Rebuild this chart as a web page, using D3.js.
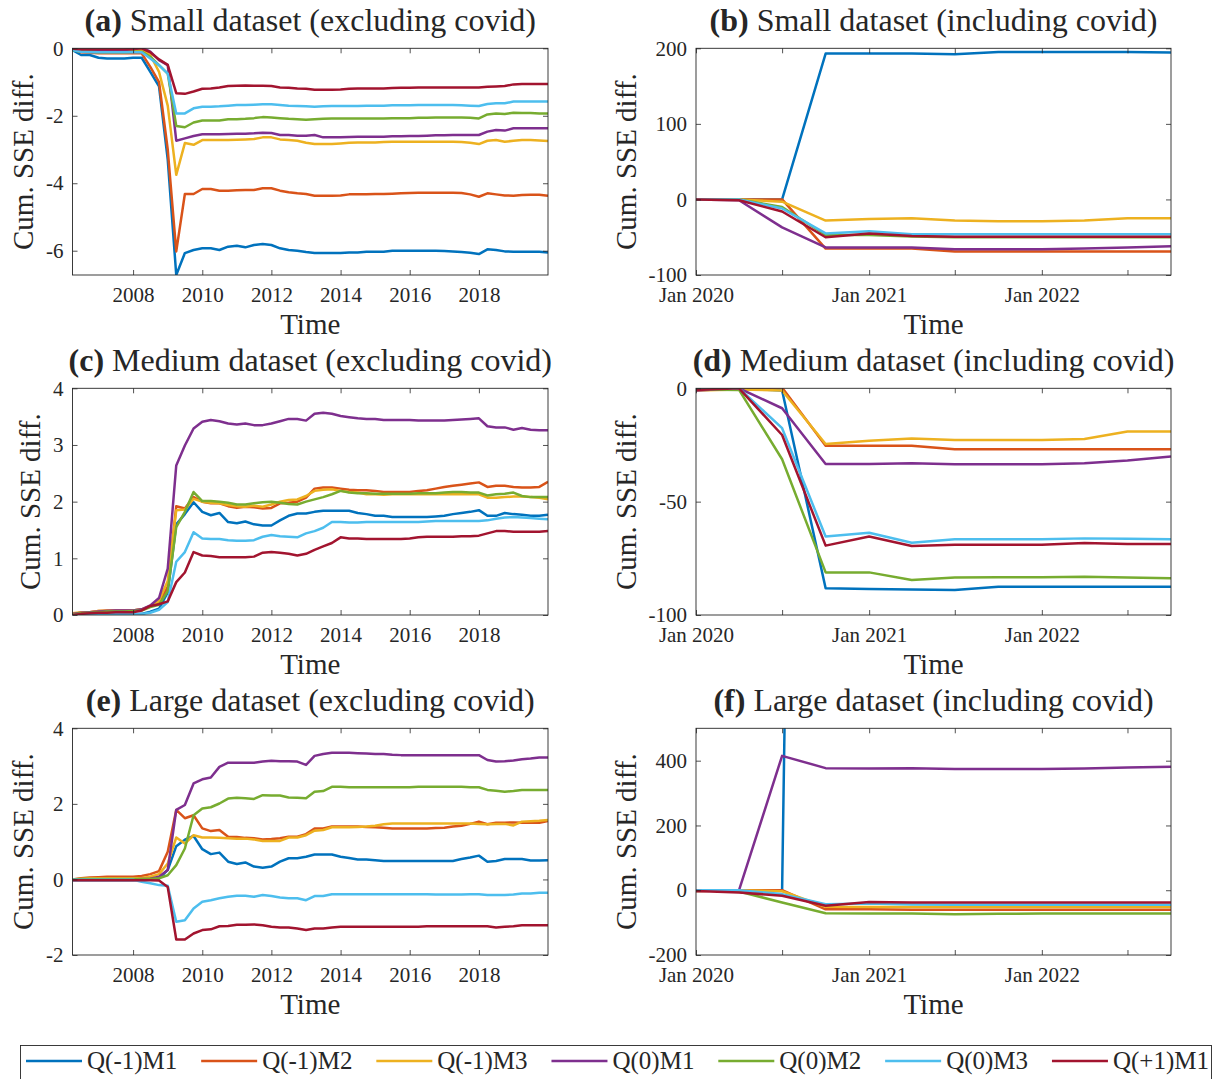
<!DOCTYPE html>
<html>
<head>
<meta charset="utf-8">
<script src="https://cdn.jsdelivr.net/npm/d3@7"></script>
<style>
  body { margin: 0; background: #fff; }
  text { font-family: 'Liberation Serif', 'Times New Roman', serif; fill: #262626; }
</style>
</head>
<body>
<svg id="chart" width="1217" height="1079"></svg>
<script>
(function () {

  'use strict';

  // ----------- DATA --------------

  var SERIES = ['Q(-1)M1', 'Q(-1)M2', 'Q(-1)M3', 'Q(0)M1', 'Q(0)M2', 'Q(0)M3', 'Q(+1)M1'];
  var COLOURS = ['#0072BD', '#D95319', '#EDB120', '#7E2F8E', '#77AC30', '#4DBEEE', '#A2142F'];

  // quarterly dates, Apr 2006 .. Jan 2020 and Jan 2020 .. Oct 2022
  var preCovidDates = d3.timeMonth.every(3).range(new Date(2006, 3, 1), new Date(2020, 0, 2));
  var covidDates = d3.timeMonth.every(3).range(new Date(2020, 0, 1), new Date(2022, 9, 2));

  var preCovidTickYears = [2008, 2010, 2012, 2014, 2016, 2018];
  var covidTickLabels = ['Jan 2020', '', 'Jan 2021', '', 'Jan 2022', ''];

  // one row per series, same order as SERIES
  var smallExcl = [
    [-0.05, -0.20, -0.20, -0.28, -0.30, -0.30, -0.30, -0.28,
     -0.28, -0.70, -1.13, -3.30, -6.72, -6.07, -5.98, -5.93,
     -5.93, -5.98, -5.88, -5.85, -5.90, -5.83, -5.80, -5.83,
     -5.93, -5.98, -6.00, -6.04, -6.07, -6.07, -6.07, -6.07,
     -6.05, -6.05, -6.03, -6.03, -6.03, -6.00, -6.00, -6.00,
     -6.00, -6.00, -6.00, -6.01, -6.02, -6.04, -6.06, -6.10,
     -5.96, -5.98, -6.02, -6.03, -6.03, -6.03, -6.03, -6.05],
    [-0.02, -0.12, -0.13, -0.15, -0.15, -0.15, -0.15, -0.15,
     -0.15, -0.55, -1.00, -3.00, -6.02, -4.32, -4.32, -4.17,
     -4.17, -4.22, -4.22, -4.21, -4.20, -4.20, -4.15, -4.15,
     -4.22, -4.27, -4.30, -4.32, -4.37, -4.37, -4.37, -4.36,
     -4.33, -4.33, -4.33, -4.32, -4.32, -4.31, -4.30, -4.29,
     -4.28, -4.28, -4.28, -4.28, -4.28, -4.29, -4.33, -4.40,
     -4.30, -4.33, -4.36, -4.37, -4.35, -4.34, -4.34, -4.37],
    [-0.03, -0.08, -0.08, -0.10, -0.10, -0.10, -0.10, -0.08,
     -0.05, -0.20, -0.70, -1.70, -3.75, -2.81, -2.86, -2.72,
     -2.72, -2.72, -2.72, -2.71, -2.70, -2.69, -2.64, -2.64,
     -2.70, -2.72, -2.74, -2.80, -2.84, -2.84, -2.84, -2.82,
     -2.80, -2.79, -2.79, -2.79, -2.78, -2.77, -2.77, -2.77,
     -2.77, -2.77, -2.77, -2.77, -2.77, -2.78, -2.80, -2.84,
     -2.74, -2.72, -2.77, -2.74, -2.72, -2.72, -2.73, -2.75],
    [-0.02, -0.05, -0.05, -0.06, -0.06, -0.06, -0.05, -0.03,
      0.03, -0.10, -0.35, -0.50, -2.74, -2.67, -2.60, -2.55,
     -2.55, -2.55, -2.54, -2.53, -2.53, -2.52, -2.50, -2.51,
     -2.57, -2.57, -2.59, -2.59, -2.57, -2.64, -2.64, -2.64,
     -2.63, -2.62, -2.62, -2.62, -2.62, -2.61, -2.61, -2.60,
     -2.60, -2.59, -2.58, -2.58, -2.57, -2.57, -2.57, -2.57,
     -2.47, -2.42, -2.44, -2.37, -2.37, -2.37, -2.37, -2.37],
    [-0.05, -0.10, -0.10, -0.12, -0.12, -0.12, -0.12, -0.10,
     -0.10, -0.25, -0.50, -0.75, -2.30, -2.34, -2.20, -2.14,
     -2.14, -2.14, -2.10, -2.10, -2.09, -2.07, -2.04, -2.05,
     -2.07, -2.09, -2.10, -2.12, -2.10, -2.09, -2.08, -2.08,
     -2.08, -2.08, -2.08, -2.08, -2.08, -2.07, -2.07, -2.07,
     -2.06, -2.06, -2.05, -2.05, -2.05, -2.05, -2.06, -2.08,
     -1.96, -1.93, -1.95, -1.91, -1.92, -1.92, -1.93, -1.93],
    [-0.05, -0.10, -0.12, -0.12, -0.12, -0.12, -0.12, -0.12,
     -0.12, -0.30, -0.50, -0.75, -1.93, -1.93, -1.78, -1.73,
     -1.73, -1.72, -1.70, -1.68, -1.68, -1.67, -1.66, -1.66,
     -1.68, -1.70, -1.71, -1.72, -1.73, -1.72, -1.71, -1.71,
     -1.71, -1.71, -1.70, -1.70, -1.70, -1.69, -1.69, -1.69,
     -1.68, -1.68, -1.68, -1.68, -1.68, -1.69, -1.70, -1.71,
     -1.65, -1.63, -1.63, -1.58, -1.58, -1.58, -1.58, -1.58],
    [-0.01, -0.03, -0.03, -0.03, -0.03, -0.03, -0.03, -0.02,
      0.00, -0.12, -0.33, -0.49, -1.33, -1.35, -1.28, -1.20,
     -1.19, -1.16, -1.12, -1.11, -1.10, -1.11, -1.11, -1.12,
     -1.16, -1.17, -1.19, -1.20, -1.23, -1.23, -1.23, -1.22,
     -1.20, -1.19, -1.19, -1.19, -1.19, -1.18, -1.17, -1.17,
     -1.16, -1.16, -1.16, -1.16, -1.16, -1.16, -1.16, -1.16,
     -1.14, -1.13, -1.12, -1.07, -1.06, -1.06, -1.06, -1.06]
  ];

  var smallIncl = [
    [0, 0, 0, 193, 193, 193, 192, 195, 195, 195, 195, 194.5],
    [0, 0, 0, -65, -65, -65, -69, -69, -69, -69, -69, -69],
    [0, 0, -3, -28, -26, -25, -28, -29, -29, -28, -25, -25],
    [0, -1, -37, -63.5, -63.5, -63.5, -66, -66, -66, -65, -63.5, -62],
    [0, 0, -10, -47, -47, -49, -50, -50, -50, -50, -50, -50],
    [0, 0, -12, -45, -42, -46, -46, -46, -46, -46, -46, -46],
    [0, -1, -16, -50, -45, -48.5, -49.5, -49.5, -49.5, -49.5, -49.5, -49.5]
  ];

  var mediumExcl = [
    [0.00, 0.00, 0.01, 0.01, 0.01, 0.01, 0.01, 0.01,
     0.02, 0.06, 0.11, 0.40, 1.60, 1.78, 1.99, 1.82,
     1.76, 1.80, 1.64, 1.62, 1.65, 1.60, 1.58, 1.58,
     1.67, 1.75, 1.79, 1.79, 1.82, 1.84, 1.84, 1.84,
     1.84, 1.80, 1.78, 1.75, 1.75, 1.73, 1.73, 1.73,
     1.73, 1.73, 1.74, 1.75, 1.78, 1.80, 1.82, 1.85,
     1.75, 1.75, 1.80, 1.78, 1.77, 1.75, 1.75, 1.77],
    [0.02, 0.04, 0.05, 0.07, 0.08, 0.08, 0.08, 0.08,
     0.10, 0.15, 0.22, 0.50, 1.92, 1.88, 2.08, 2.00,
     1.97, 1.97, 1.92, 1.89, 1.91, 1.90, 1.88, 1.89,
     1.97, 1.98, 2.00, 2.07, 2.23, 2.25, 2.25, 2.23,
     2.21, 2.20, 2.20, 2.19, 2.17, 2.17, 2.17, 2.17,
     2.19, 2.20, 2.23, 2.26, 2.28, 2.30, 2.32, 2.34,
     2.26, 2.28, 2.28, 2.26, 2.25, 2.25, 2.26, 2.35],
    [0.03, 0.05, 0.05, 0.07, 0.07, 0.07, 0.07, 0.08,
     0.10, 0.16, 0.25, 0.60, 1.85, 1.86, 2.05, 2.00,
     1.98, 1.97, 1.94, 1.92, 1.91, 1.93, 1.91, 1.95,
     2.00, 2.03, 2.04, 2.10, 2.19, 2.21, 2.22, 2.19,
     2.17, 2.16, 2.13, 2.13, 2.12, 2.13, 2.13, 2.13,
     2.13, 2.13, 2.13, 2.13, 2.13, 2.13, 2.13, 2.13,
     2.07, 2.07, 2.08, 2.09, 2.09, 2.08, 2.07, 2.04],
    [0.02, 0.04, 0.05, 0.06, 0.07, 0.08, 0.08, 0.08,
     0.10, 0.17, 0.30, 0.82, 2.64, 2.99, 3.29, 3.41,
     3.44, 3.42, 3.38, 3.36, 3.38, 3.35, 3.35, 3.38,
     3.42, 3.46, 3.46, 3.43, 3.55, 3.57, 3.55, 3.51,
     3.49, 3.47, 3.46, 3.46, 3.44, 3.44, 3.44, 3.44,
     3.43, 3.43, 3.43, 3.43, 3.44, 3.45, 3.46, 3.47,
     3.33, 3.31, 3.31, 3.27, 3.30, 3.27, 3.26, 3.26],
    [0.01, 0.03, 0.04, 0.05, 0.06, 0.06, 0.06, 0.07,
     0.08, 0.14, 0.18, 0.42, 1.55, 1.82, 2.17, 2.01,
     2.01, 2.00, 1.98, 1.95, 1.95, 1.97, 1.99, 2.00,
     1.98, 1.96, 1.95, 2.00, 2.04, 2.08, 2.13, 2.19,
     2.16, 2.15, 2.15, 2.14, 2.14, 2.14, 2.14, 2.14,
     2.15, 2.15, 2.15, 2.16, 2.17, 2.17, 2.16, 2.16,
     2.11, 2.13, 2.14, 2.16, 2.10, 2.08, 2.08, 2.08],
    [0.00, 0.00, 0.00, 0.00, 0.01, 0.01, 0.01, 0.01,
     0.02, 0.04, 0.09, 0.23, 0.94, 1.11, 1.46, 1.35,
     1.34, 1.34, 1.32, 1.31, 1.31, 1.32, 1.38, 1.41,
     1.39, 1.38, 1.37, 1.44, 1.48, 1.54, 1.64, 1.64,
     1.63, 1.63, 1.64, 1.64, 1.64, 1.64, 1.64, 1.64,
     1.64, 1.65, 1.66, 1.66, 1.66, 1.66, 1.66, 1.66,
     1.67, 1.70, 1.72, 1.73, 1.72, 1.71, 1.70, 1.69],
    [0.00, 0.02, 0.03, 0.04, 0.04, 0.05, 0.05, 0.05,
     0.08, 0.16, 0.19, 0.24, 0.58, 0.75, 1.11, 1.05,
     1.04, 1.02, 1.02, 1.02, 1.02, 1.03, 1.10, 1.11,
     1.10, 1.08, 1.05, 1.08, 1.15, 1.21, 1.27, 1.37,
     1.35, 1.35, 1.34, 1.34, 1.34, 1.34, 1.34, 1.35,
     1.37, 1.38, 1.38, 1.38, 1.38, 1.39, 1.39, 1.40,
     1.44, 1.48, 1.48, 1.47, 1.47, 1.47, 1.47, 1.48]
  ];

  var mediumIncl = [
    [-0.5, 0, -1, -88.2, -88.5, -88.7, -89, -87.5, -87.5, -87.5, -87.5, -87.5],
    [-0.5, 0, 0.3, -25.3, -25.3, -25.3, -26.9, -26.9, -26.9, -26.9, -26.9, -26.9],
    [-1, -0.5, -1, -24.6, -23.1, -22.1, -22.8, -22.8, -22.8, -22.4, -19.1, -19.1],
    [-1, 0, -8.8, -33.4, -33.4, -33.1, -33.5, -33.5, -33.5, -33.1, -31.9, -30.1],
    [-0.5, -0.7, -31.3, -81.2, -81.2, -84.6, -83.5, -83.4, -83.3, -83.1, -83.5, -83.8],
    [-0.5, 0, -17.6, -65.4, -63.7, -68.1, -66.6, -66.6, -66.6, -66.2, -66.4, -66.6],
    [-0.7, 0, -20.6, -69.4, -65.4, -69.6, -69.0, -69.0, -69.0, -68.2, -68.7, -68.7]
  ];

  var largeExcl = [
    [-0.02, -0.02, -0.02, -0.02, -0.02, -0.02, -0.02, -0.02,
     -0.01, 0.00, 0.02, 0.25, 0.88, 1.05, 1.15, 0.80,
     0.67, 0.71, 0.47, 0.41, 0.45, 0.34, 0.31, 0.34,
     0.47, 0.56, 0.56, 0.60, 0.66, 0.66, 0.66, 0.60,
     0.57, 0.53, 0.53, 0.51, 0.49, 0.49, 0.49, 0.49,
     0.49, 0.49, 0.49, 0.49, 0.49, 0.54, 0.58, 0.63,
     0.47, 0.49, 0.54, 0.54, 0.54, 0.50, 0.50, 0.51],
    [0.00, 0.03, 0.05, 0.06, 0.07, 0.07, 0.07, 0.07,
     0.09, 0.14, 0.22, 0.73, 1.84, 1.62, 1.70, 1.35,
     1.28, 1.31, 1.13, 1.12, 1.10, 1.09, 1.06, 1.07,
     1.09, 1.13, 1.13, 1.20, 1.35, 1.35, 1.40, 1.40,
     1.40, 1.40, 1.39, 1.38, 1.37, 1.35, 1.35, 1.35,
     1.35, 1.35, 1.36, 1.37, 1.40, 1.42, 1.47, 1.53,
     1.46, 1.50, 1.50, 1.51, 1.50, 1.50, 1.50, 1.55],
    [0.00, 0.02, 0.03, 0.03, 0.03, 0.03, 0.03, 0.03,
     0.04, 0.07, 0.14, 0.42, 1.11, 0.95, 1.17, 1.11,
     1.11, 1.10, 1.09, 1.08, 1.08, 1.06, 1.02, 1.02,
     1.02, 1.11, 1.11, 1.17, 1.29, 1.31, 1.38, 1.38,
     1.38, 1.39, 1.40, 1.42, 1.46, 1.48, 1.48, 1.48,
     1.48, 1.48, 1.48, 1.48, 1.48, 1.48, 1.48, 1.47,
     1.46, 1.47, 1.47, 1.43, 1.53, 1.54, 1.55, 1.57],
    [-0.01, 0.00, 0.00, 0.00, 0.00, 0.00, 0.00, 0.00,
     0.01, 0.02, 0.07, 0.25, 1.84, 1.97, 2.54, 2.65,
     2.70, 2.98, 3.09, 3.09, 3.09, 3.09, 3.12, 3.14,
     3.13, 3.13, 3.12, 3.03, 3.27, 3.32, 3.35, 3.35,
     3.35, 3.34, 3.33, 3.32, 3.32, 3.30, 3.29, 3.29,
     3.29, 3.29, 3.29, 3.29, 3.29, 3.29, 3.29, 3.29,
     3.16, 3.12, 3.13, 3.15, 3.18, 3.20, 3.23, 3.23],
    [0.00, 0.01, 0.01, 0.01, 0.01, 0.01, 0.01, 0.01,
     0.01, 0.01, 0.03, 0.11, 0.38, 0.82, 1.70, 1.88,
     1.91, 2.01, 2.14, 2.16, 2.15, 2.13, 2.23, 2.22,
     2.22, 2.17, 2.16, 2.15, 2.32, 2.34, 2.45, 2.45,
     2.44, 2.44, 2.44, 2.44, 2.44, 2.44, 2.44, 2.44,
     2.45, 2.45, 2.45, 2.45, 2.45, 2.45, 2.44, 2.44,
     2.37, 2.35, 2.32, 2.34, 2.37, 2.37, 2.37, 2.37],
    [-0.01, -0.01, -0.01, -0.01, -0.01, -0.01, -0.01, -0.01,
     -0.06, -0.10, -0.15, -0.17, -1.12, -1.08, -0.77, -0.59,
     -0.55, -0.50, -0.46, -0.43, -0.43, -0.46, -0.41, -0.44,
     -0.48, -0.50, -0.50, -0.55, -0.44, -0.44, -0.39, -0.39,
     -0.39, -0.39, -0.39, -0.39, -0.39, -0.39, -0.39, -0.39,
     -0.39, -0.39, -0.40, -0.40, -0.40, -0.40, -0.39, -0.39,
     -0.41, -0.41, -0.41, -0.40, -0.37, -0.37, -0.35, -0.35],
    [-0.02, -0.02, -0.02, -0.02, -0.02, -0.02, -0.02, -0.02,
     -0.02, -0.02, -0.03, -0.20, -1.59, -1.59, -1.43, -1.34,
     -1.32, -1.24, -1.23, -1.20, -1.20, -1.19, -1.21, -1.25,
     -1.27, -1.27, -1.30, -1.34, -1.30, -1.30, -1.27, -1.25,
     -1.25, -1.25, -1.25, -1.25, -1.25, -1.25, -1.25, -1.25,
     -1.25, -1.24, -1.24, -1.24, -1.24, -1.24, -1.24, -1.24,
     -1.24, -1.27, -1.25, -1.24, -1.21, -1.21, -1.21, -1.21]
  ];

  var largeIncl = [
    [0, 0, 0, 9000, 9000, 9010, 9010, 9010, 9010, 9020, 9020, 9020],
    [-2, 0, 0, -59, -59, -60, -60, -60, -60, -60, -60, -60],
    [-2, 0, -3, -51, -52, -52, -52, -52, -52, -52, -52, -52],
    [-2, 0, 415, 377, 376, 377, 374, 374, 374, 376, 379, 381],
    [0, -4, -38, -71, -72, -72, -74, -73, -72, -72, -72, -72],
    [0, 0, -12, -43, -41, -44, -45, -45, -45, -45, -45, -45],
    [-2, -7, -17, -48, -36, -38, -38, -38, -38, -38, -38, -38]
  ];

  var yTicksSmallExcl = [-6, -4, -2, 0];
  var yTicksSmallIncl = [-100, 0, 100, 200];
  var yTicksMediumExcl = [0, 1, 2, 3, 4];
  var yTicksMediumIncl = [-100, -50, 0];
  var yTicksLargeExcl = [-2, 0, 2, 4];
  var yTicksLargeIncl = [-200, 0, 200, 400];

  // ----------- LAYOUT --------------

  var COL_X = [[72.5, 548], [696, 1171]];
  var ROW_TOP = 48.3;
  var ROW_STEP = 340;
  var PLOT_H = 226.7;
  var TICK = 5;

  var preTicks = preCovidTickYears.map(function (y) { return new Date(y, 0, 1); });
  var preLabels = preCovidTickYears.map(String);
  var covTicks = d3.timeMonth.every(6).range(new Date(2020, 0, 1), new Date(2022, 9, 2));

  var panels = [
    {tag: '(a)', title: 'Small dataset (excluding covid)', series: smallExcl, dates: preCovidDates,
      xTicks: preTicks, xLabels: preLabels, yDomain: [-6.72, 0], yTicks: yTicksSmallExcl, col: 0, row: 0},
    {tag: '(b)', title: 'Small dataset (including covid)', series: smallIncl, dates: covidDates,
      xTicks: covTicks, xLabels: covidTickLabels, yDomain: [-100, 200], yTicks: yTicksSmallIncl, col: 1, row: 0},
    {tag: '(c)', title: 'Medium dataset (excluding covid)', series: mediumExcl, dates: preCovidDates,
      xTicks: preTicks, xLabels: preLabels, yDomain: [0, 4], yTicks: yTicksMediumExcl, col: 0, row: 1},
    {tag: '(d)', title: 'Medium dataset (including covid)', series: mediumIncl, dates: covidDates,
      xTicks: covTicks, xLabels: covidTickLabels, yDomain: [-100, 0], yTicks: yTicksMediumIncl, col: 1, row: 1},
    {tag: '(e)', title: 'Large dataset (excluding covid)', series: largeExcl, dates: preCovidDates,
      xTicks: preTicks, xLabels: preLabels, yDomain: [-2, 4], yTicks: yTicksLargeExcl, col: 0, row: 2},
    {tag: '(f)', title: 'Large dataset (including covid)', series: largeIncl, dates: covidDates,
      xTicks: covTicks, xLabels: covidTickLabels, yDomain: [-200, 500], yTicks: yTicksLargeIncl, col: 1, row: 2}
  ];

  var svg = d3.select('#chart');
  var defs = svg.append('defs');

  panels.forEach(drawPanel);
  drawLegend();

  function styleAxis(sel) {
    sel.attr('font-family', null).attr('font-size', 21).attr('color', '#262626');
    sel.select('.domain').remove();
    sel.selectAll('.tick line').attr('stroke-width', 0.8);
  }

  function drawPanel(p, idx) {
    var x0 = COL_X[p.col][0], x1 = COL_X[p.col][1];
    var top = ROW_TOP + p.row * ROW_STEP;
    var bottom = top + PLOT_H;

    var x = d3.scaleTime().domain(d3.extent(p.dates)).range([x0, x1]);
    var y = d3.scaleLinear().domain(p.yDomain).range([bottom, top]);

    var g = svg.append('g').attr('class', 'panel');

    defs.append('clipPath').attr('id', 'clip-' + idx)
      .append('rect')
      .attr('x', x0).attr('y', top)
      .attr('width', x1 - x0).attr('height', bottom - top);

    var line = d3.line()
      .x(function (d, i) { return x(p.dates[i]); })
      .y(function (d) { return y(d); });

    g.append('g')
      .attr('clip-path', 'url(#clip-' + idx + ')')
      .selectAll('path')
      .data(p.series)
      .enter()
      .append('path')
      .attr('d', line)
      .attr('fill', 'none')
      .attr('stroke', function (d, i) { return COLOURS[i]; })
      .attr('stroke-width', 2.5)
      .attr('stroke-linejoin', 'round');

    // axes, ticks inwards on all four sides
    g.append('g')
      .attr('transform', 'translate(0,' + bottom + ')')
      .call(d3.axisBottom(x).tickValues(p.xTicks)
        .tickFormat(function (d, i) { return p.xLabels[i]; })
        .tickSize(-TICK).tickPadding(12))
      .call(styleAxis);

    g.append('g')
      .attr('transform', 'translate(0,' + top + ')')
      .call(d3.axisTop(x).tickValues(p.xTicks).tickFormat('').tickSize(-TICK))
      .call(styleAxis);

    var yAxis = g.append('g')
      .attr('transform', 'translate(' + x0 + ',0)')
      .call(d3.axisLeft(y).tickValues(p.yTicks).tickFormat(String)
        .tickSize(-TICK).tickPadding(9))
      .call(styleAxis);

    g.append('g')
      .attr('transform', 'translate(' + x1 + ',0)')
      .call(d3.axisRight(y).tickValues(p.yTicks).tickFormat('').tickSize(-TICK))
      .call(styleAxis);

    g.append('rect')
      .attr('x', x0).attr('y', top)
      .attr('width', x1 - x0).attr('height', bottom - top)
      .attr('fill', 'none')
      .attr('stroke', '#262626')
      .attr('stroke-width', 0.9);

    // title
    var title = g.append('text')
      .attr('x', (x0 + x1) / 2)
      .attr('y', top - 17)
      .attr('text-anchor', 'middle')
      .attr('font-size', 32);
    title.append('tspan').attr('font-weight', 'bold').text(p.tag);
    title.append('tspan').text(' ' + p.title);

    // axis labels
    g.append('text')
      .attr('x', (x0 + x1) / 2)
      .attr('y', bottom + 59)
      .attr('text-anchor', 'middle')
      .attr('font-size', 29)
      .text('Time');

    // y label sits left of the widest tick label (bbox is in the axis' own frame)
    var bb = yAxis.node().getBBox();
    var lx = x0 + bb.x - 13;
    var ly = (top + bottom) / 2;
    g.append('text')
      .attr('transform', 'translate(' + lx + ',' + ly + ') rotate(-90)')
      .attr('text-anchor', 'middle')
      .attr('font-size', 29)
      .text('Cum. SSE diff.');
  }

  function drawLegend() {
    var lg = svg.append('g').attr('class', 'legend');
    var boxX = 20.5, boxY = 1045.5, boxW = 1191;
    var lineLen = 56, gap = 5, startX = 26, endX = 1209, midY = 1061;

    lg.append('rect')
      .attr('x', boxX).attr('y', boxY)
      .attr('width', boxW).attr('height', 40)
      .attr('fill', '#fff')
      .attr('stroke', '#262626')
      .attr('stroke-width', 0.9);

    var items = lg.selectAll('g.item')
      .data(SERIES)
      .enter()
      .append('g')
      .attr('class', 'item');

    items.append('line')
      .attr('x1', 0).attr('x2', lineLen)
      .attr('y1', midY).attr('y2', midY)
      .attr('stroke', function (d, i) { return COLOURS[i]; })
      .attr('stroke-width', 2.5);

    items.append('text')
      .attr('x', lineLen + gap)
      .attr('y', midY + 8)
      .attr('font-size', 25)
      .text(function (d) { return d; });

    var widths = [];
    items.selectAll('text').each(function () { widths.push(this.getComputedTextLength()); });
    var used = d3.sum(widths) + SERIES.length * (lineLen + gap);
    var spacing = (endX - startX - used) / (SERIES.length - 1);

    var cursor = startX;
    items.attr('transform', function (d, i) {
      var t = 'translate(' + cursor + ',0)';
      cursor += lineLen + gap + widths[i] + spacing;
      return t;
    });
  }

})();
</script>
</body>
</html>
